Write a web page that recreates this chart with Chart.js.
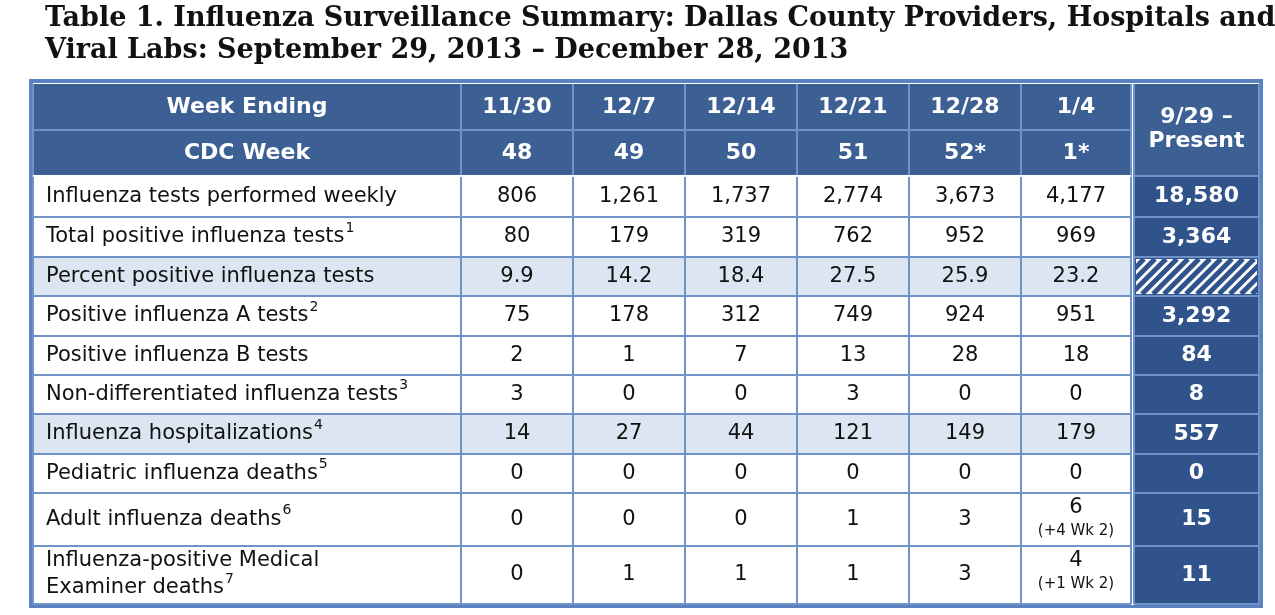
<!DOCTYPE html>
<html>
<head>
<meta charset="utf-8">
<script src="https://cdn.jsdelivr.net/npm/chart.js@4"></script>
<style>
  body { margin: 0; background: #fff; }
  #wrap { width: 1275px; height: 615px; position: relative; }
</style>
</head>
<body>
<div id="wrap"><canvas id="tbl"></canvas></div>
<script>
// data
const titleLines = ['Table 1. Influenza Surveillance Summary: Dallas County Providers, Hospitals and',
                    'Viral Labs: September 29, 2013 \u2013 December 28, 2013'];
const weekEnding = ['11/30', '12/7', '12/14', '12/21', '12/28', '1/4'];
const cdcWeek = ['48', '49', '50', '51', '52*', '1*'];
const totalHeader = ['9/29 \u2013', 'Present'];
const rowLabels = [
  ['Influenza tests performed weekly', ''],
  ['Total positive influenza tests', '1'],
  ['Percent positive influenza tests', ''],
  ['Positive influenza A tests', '2'],
  ['Positive influenza B tests', ''],
  ['Non-differentiated influenza tests', '3'],
  ['Influenza hospitalizations', '4'],
  ['Pediatric influenza deaths', '5'],
  ['Adult influenza deaths', '6'],
  ['Influenza-positive Medical\nExaminer deaths', '7']
];
const testsPerformed = ['806', '1,261', '1,737', '2,774', '3,673', '4,177'];
const totalPositive = ['80', '179', '319', '762', '952', '969'];
const percentPositive = ['9.9', '14.2', '18.4', '27.5', '25.9', '23.2'];
const positiveA = ['75', '178', '312', '749', '924', '951'];
const positiveB = ['2', '1', '7', '13', '28', '18'];
const nonDiff = ['3', '0', '0', '3', '0', '0'];
const hospitalizations = ['14', '27', '44', '121', '149', '179'];
const pediatricDeaths = ['0', '0', '0', '0', '0', '0'];
const adultDeaths = ['0', '0', '0', '1', '3', '6'];
const meDeaths = ['0', '1', '1', '1', '3', '4'];
const rowValues = [testsPerformed, totalPositive, percentPositive, positiveA, positiveB,
                   nonDiff, hospitalizations, pediatricDeaths, adultDeaths, meDeaths];
const totals = ['18,580', '3,364', null, '3,292', '84', '8', '557', '0', '15', '11'];
const cellNotes = { '8,5': '(+4 Wk 2)', '9,5': '(+1 Wk 2)' };
const shadedRows = [2, 6];

// layout (pixel grid of the page, mapped through the hidden scales)
const colEdges = [33, 461, 573, 685, 797, 909, 1021, 1131];
const totalCol = [1134, 1259];
const headEdges = [84, 130, 176];
const rowEdges = [176, 217, 257, 296, 336, 375, 414, 454, 493, 546, 604];

const HEAD = '#3c6094', TOT = '#30538b', LINE = '#6f93c8', SHADE = '#dce6f2';
const SANS = '"DejaVu Sans", Verdana, sans-serif';

const tablePlugin = {
  id: 'tablePlugin',
  afterDraw(chart) {
    const ctx = chart.ctx, sx = chart.scales.x, sy = chart.scales.y;
    const X = v => sx.getPixelForValue(v), Y = v => sy.getPixelForValue(v);
    const rect = (x0, y0, x1, y1, fill) => { ctx.fillStyle = fill; ctx.fillRect(X(x0), Y(y0), X(x1) - X(x0), Y(y1) - Y(y0)); };
    const text = (s, x, y, font, color, align) => {
      ctx.font = font; ctx.fillStyle = color; ctx.textAlign = align || 'center'; ctx.textBaseline = 'middle';
      ctx.fillText(s, X(x), Y(y));
    };
    ctx.save();

    // title
    ctx.font = 'bold 27px "DejaVu Serif", Georgia, serif';
    ctx.fillStyle = '#111'; ctx.textAlign = 'left'; ctx.textBaseline = 'alphabetic';
    ctx.fillText(titleLines[0], X(45), Y(26));
    ctx.fillText(titleLines[1], X(45), Y(58));

    // outer frame
    rect(29, 79, 1263, 608, '#5a82c0');
    rect(33, 83, 1259, 605, '#ffffff');

    // header
    rect(colEdges[0], headEdges[0], colEdges[7], headEdges[2], HEAD);
    rect(totalCol[0], headEdges[0], totalCol[1], headEdges[2], HEAD);
    // total column body
    rect(totalCol[0], rowEdges[0], totalCol[1], rowEdges[10], TOT);
    // shaded rows
    shadedRows.forEach(r => rect(colEdges[0], rowEdges[r], colEdges[7], rowEdges[r + 1], SHADE));

    // hatched total cell
    ctx.save();
    const hx0 = X(totalCol[0] + 2), hy0 = Y(rowEdges[2] + 2), hx1 = X(totalCol[1] - 2), hy1 = Y(rowEdges[3] - 2);
    ctx.beginPath(); ctx.rect(hx0, hy0, hx1 - hx0, hy1 - hy0); ctx.fillStyle = '#fff'; ctx.fill(); ctx.clip();
    ctx.strokeStyle = TOT; ctx.lineWidth = 5;
    for (let k = hx0 - 60; k < hx1 + 60; k += 11) {
      ctx.beginPath(); ctx.moveTo(k, hy1); ctx.lineTo(k + (hy1 - hy0), hy0); ctx.stroke();
    }
    ctx.restore();

    // grid lines
    ctx.strokeStyle = LINE; ctx.lineWidth = 2;
    const hline = (y, x0, x1) => { ctx.beginPath(); ctx.moveTo(X(x0), Y(y)); ctx.lineTo(X(x1), Y(y)); ctx.stroke(); };
    const vline = (x, y0, y1) => { ctx.beginPath(); ctx.moveTo(X(x), Y(y0)); ctx.lineTo(X(x), Y(y1)); ctx.stroke(); };
    hline(headEdges[1], colEdges[0], colEdges[7]);
    rowEdges.forEach(y => { hline(y, colEdges[0], colEdges[7]); hline(y, totalCol[0], totalCol[1]); });
    colEdges.forEach(x => vline(x, headEdges[0], rowEdges[10]));
    vline(totalCol[0], headEdges[0], rowEdges[10]);
    vline(totalCol[1], headEdges[0], rowEdges[10]);
    ctx.strokeStyle = '#ffffff'; ctx.lineWidth = 2;
    hline(headEdges[2], colEdges[0], colEdges[7]);

    // header text
    const hFont = 'bold 22px ' + SANS;
    const hm1 = (headEdges[0] + headEdges[1]) / 2, hm2 = (headEdges[1] + headEdges[2]) / 2;
    text('Week Ending', (colEdges[0] + colEdges[1]) / 2, hm1, hFont, '#fff');
    text('CDC Week', (colEdges[0] + colEdges[1]) / 2, hm2, hFont, '#fff');
    weekEnding.forEach((w, i) => {
      const cx = (colEdges[i + 1] + colEdges[i + 2]) / 2;
      text(w, cx, hm1, hFont, '#fff');
      text(cdcWeek[i], cx, hm2, hFont, '#fff');
    });
    const tcx = (totalCol[0] + totalCol[1]) / 2;
    text(totalHeader[0], tcx, hm1 + 10, hFont, '#fff');
    text(totalHeader[1], tcx, hm2 - 12, hFont, '#fff');

    // body
    const bFont = '21px ' + SANS;
    rowLabels.forEach((lab, r) => {
      const y0 = rowEdges[r], y1 = rowEdges[r + 1], ym = (y0 + y1) / 2;
      const lines = lab[0].split('\n');
      lines.forEach((ln, li) => {
        const ly = lines.length === 1 ? ym : y0 + 15 + li * 27;
        text(ln, 46, ly, bFont, '#111', 'left');
        if (li === lines.length - 1 && lab[1]) {
          ctx.font = bFont; const w = ctx.measureText(ln).width;
          ctx.font = '14px ' + SANS; ctx.textAlign = 'left'; ctx.fillText(lab[1], X(46) + w + 1, Y(ly - 9));
        }
      });
      rowValues[r].forEach((v, c) => {
        const cx = (colEdges[c + 1] + colEdges[c + 2]) / 2;
        const note = cellNotes[r + ',' + c];
        if (note) {
          text(v, cx, y0 + 15, bFont, '#111');
          text(note, cx, y0 + 38, '15px ' + SANS, '#111');
        } else {
          text(v, cx, ym, bFont, '#111');
        }
      });
      if (totals[r] !== null) text(totals[r], tcx, ym, 'bold 22px ' + SANS, '#fff');
    });
    ctx.restore();
  }
};

new Chart(document.getElementById('tbl'), {
  type: 'scatter',
  data: { datasets: [{ data: [] }] },
  options: {
    responsive: true,
    maintainAspectRatio: false,
    animation: false,
    layout: { padding: 0 },
    plugins: { legend: { display: false }, tooltip: { enabled: false } },
    scales: {
      x: { type: 'linear', min: 0, max: 1275, display: false },
      y: { type: 'linear', min: 0, max: 615, reverse: true, display: false }
    }
  },
  plugins: [tablePlugin]
});
</script>
</body>
</html>
